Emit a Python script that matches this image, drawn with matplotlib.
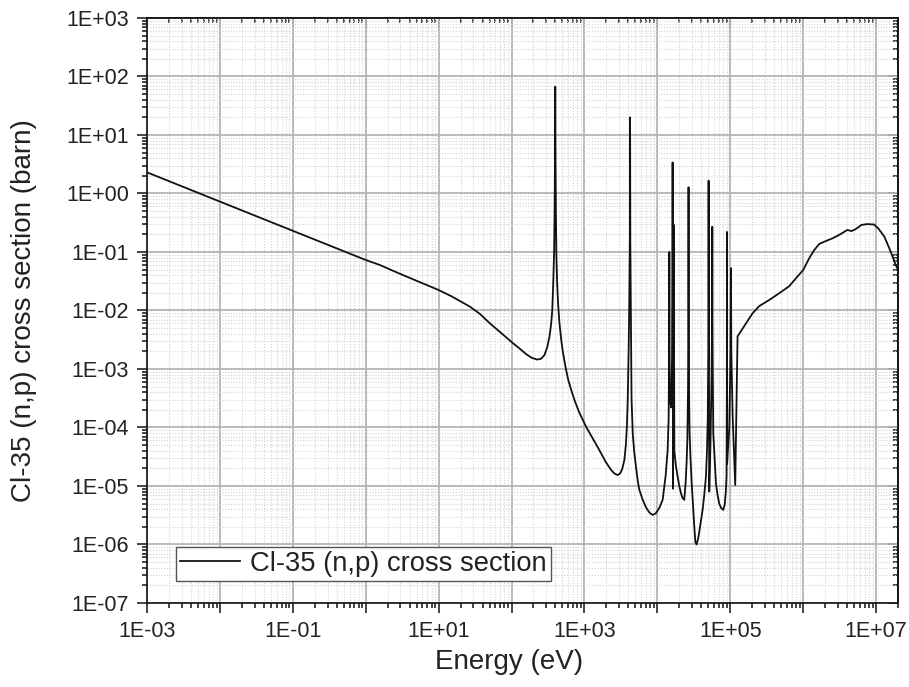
import numpy as np
import matplotlib
matplotlib.use("Agg")
import matplotlib.pyplot as plt
from matplotlib.ticker import LogLocator, FuncFormatter, NullFormatter

plt.rcParams['font.family'] = ['Liberation Sans', 'DejaVu Sans']

# Cl-35 (n,p) cross section: neutron energy (eV) and cross section (barn)
energy_ev = [
    1e-3, 3e-3, 1e-2, 3e-2, 0.1, 0.3, 1.0, 1.56, 3.0, 10.0,
    15.0, 20.0, 27.0, 37.0, 50.0, 75.0, 104.0, 130.0, 160.0, 190.0,
    225.0, 255.0, 283.0, 310.0, 332.0, 350.0, 362.0, 372.0, 384.0, 390.0,
    395.0, 398.0, 401.0, 406.0, 412.0, 422.0, 437.0, 455.0, 480.0, 505.0,
    530.0, 561.0, 600.0, 658.0, 730.0, 850.0, 1054.0, 1300.0, 1604.0, 1950.0,
    2322.0, 2600.0, 2864.0, 3100.0, 3300.0, 3533.0, 3700.0, 3830.0, 3926.0, 4050.0,
    4130.0, 4200.0, 4215.0, 4227.0, 4240.0, 4260.0, 4325.0, 4430.0, 4600.0, 4800.0,
    5100.0, 5400.0, 5660.0, 6300.0, 7000.0, 7800.0, 8630.0, 9500.0, 10640.0, 11830.0,
    13000.0, 13850.0, 14300.0, 14550.0, 14600.0, 14650.0, 14900.0, 15500.0, 15950.0, 16170.0,
    16200.0, 16230.0, 16400.0, 16700.0, 16880.0, 16900.0, 16920.0, 17100.0, 18000.0, 19000.0,
    20000.0, 21100.0, 22200.0, 23400.0, 24500.0, 25200.0, 25800.0, 26400.0, 26700.0, 26800.0,
    26900.0, 27300.0, 27700.0, 28500.0, 29500.0, 30500.0, 31800.0, 33200.0, 34500.0, 36500.0,
    39000.0, 41800.0, 44000.0, 46400.0, 48000.0, 49200.0, 50000.0, 50500.0, 51500.0, 53500.0,
    55500.0, 56500.0, 56700.0, 56900.0, 57600.0, 58500.0, 61000.0, 63700.0, 67000.0, 70600.0,
    75000.0, 80200.0, 84000.0, 87000.0, 89000.0, 89900.0, 90100.0, 90600.0, 97000.0, 101000.0,
    102300.0, 103500.0, 108000.0, 117000.0, 126000.0, 164000.0, 202000.0, 250000.0, 342000.0, 469000.0,
    643000.0, 835000.0, 1.0e6, 1.21e6, 1.42e6, 1.66e6, 1.9e6, 2.52e6, 3.1e6, 4.04e6,
    4.6e6, 5.2e6, 6.3e6, 7.6e6, 9.4e6, 1.07e7, 1.3e7, 1.59e7, 1.86e7, 2.0e7,
]
cross_section_b = [
    2.3, 1.33, 0.73, 0.42, 0.23, 0.133, 0.073, 0.060, 0.042, 0.0224,
    0.0175, 0.0143, 0.0116, 8.7e-3, 6.1e-3, 3.95e-3, 2.78e-3, 2.22e-3, 1.78e-3, 1.55e-3,
    1.45e-3, 1.5e-3, 1.73e-3, 2.4e-3, 3.6e-3, 6.0e-3, 0.01, 0.025, 0.1, 0.5,
    5.0, 67.0, 5.0, 0.5, 0.1, 0.03, 0.012, 6.0e-3, 3.2e-3, 2.0e-3,
    1.4e-3, 9.6e-4, 6.5e-4, 4.4e-4, 2.95e-4, 1.8e-4, 1.03e-4, 6.5e-5, 4.1e-5, 2.6e-5,
    1.88e-5, 1.62e-5, 1.54e-5, 1.65e-5, 1.95e-5, 2.8e-5, 5e-5, 1.1e-4, 3e-4, 2.5e-3,
    0.015, 0.15, 0.8, 20.0, 0.8, 0.15, 0.012, 3e-4, 8e-5, 4e-5,
    2.1e-5, 1.2e-5, 8.6e-6, 5.8e-6, 4.3e-6, 3.5e-6, 3.2e-6, 3.4e-6, 4.2e-6, 5.8e-6,
    1.5e-5, 4.1e-5, 1.5e-4, 3e-3, 0.10, 3e-3, 3e-4, 2.2e-4, 1.5e-3, 0.05,
    3.4, 0.05, 9e-6, 5e-4, 0.01, 0.29, 0.01, 4e-5, 2.2e-5, 1.44e-5,
    1.0e-5, 7.5e-6, 6.2e-6, 5.8e-6, 1.2e-5, 2.5e-5, 6e-5, 5e-4, 0.02, 1.28,
    0.02, 3e-4, 8e-5, 3e-5, 1.2e-5, 5.8e-6, 2.5e-6, 1.1e-6, 1.0e-6, 1.3e-6,
    2.2e-6, 3.9e-6, 7e-6, 1.44e-5, 4e-5, 1.5e-4, 2e-3, 1.66, 8e-6, 5e-5,
    8e-4, 0.01, 0.27, 0.01, 8e-4, 8e-5, 3e-5, 1.1e-5, 7e-6, 5e-6,
    4.2e-6, 3.9e-6, 4.8e-6, 8e-6, 1.5e-5, 5e-4, 0.22, 2.4e-5, 1e-4, 2e-3,
    0.053, 2e-3, 1.5e-4, 1.04e-5, 3.6e-3, 6.0e-3, 8.9e-3, 0.0119, 0.0151, 0.0197,
    0.026, 0.038, 0.049, 0.078, 0.108, 0.137, 0.148, 0.171, 0.195, 0.238,
    0.228, 0.244, 0.29, 0.30, 0.295, 0.254, 0.183, 0.101, 0.060, 0.05,
]

x_limits = (1e-3, 2e7)
y_limits = (1e-7, 1e3)
series_label = "Cl-35 (n,p) cross section"
x_title = "Energy (eV)"
y_title = "Cl-35 (n,p) cross section (barn)"

fig = plt.figure(figsize=(9.09, 6.87), dpi=100)
ax = fig.add_axes([0.1617, 0.1223, 0.8262, 0.8515])

ax.plot(energy_ev, cross_section_b, color='#111111', lw=1.3, label=series_label)

ax.set_xscale('log')
ax.set_yscale('log')
ax.set_xlim(*x_limits)
ax.set_ylim(*y_limits)


def exp_label(v, pos, odd_only=False):
    e = int(round(np.log10(v)))
    if odd_only and e % 2 == 0:
        return ""
    return f"1E{e:+03d}"


def decade_locators(axis):
    axis.set_major_locator(LogLocator(base=10, numticks=100))
    axis.set_minor_locator(LogLocator(base=10, subs=np.arange(2, 10), numticks=200))


decade_locators(ax.xaxis)
decade_locators(ax.yaxis)
ax.xaxis.set_major_formatter(FuncFormatter(lambda v, p: exp_label(v, p, True)))
ax.yaxis.set_major_formatter(FuncFormatter(exp_label))
ax.xaxis.set_minor_formatter(NullFormatter())
ax.yaxis.set_minor_formatter(NullFormatter())

ax.set_axisbelow(True)
ax.grid(which='major', color='#b4b4b4', lw=1.3)
ax.grid(which='minor', color='#d4d4d4', lw=0.8, ls=(0, (1, 1.5)))

ax.tick_params(which='both', direction='out', top=False, right=False,
               width=1.1, colors='#111111', labelcolor='#222222')
ax.tick_params(which='major', length=7, labelsize=15.5, pad=6)
ax.tick_params(which='minor', length=3.6)

for side in ax.spines.values():
    side.set_linewidth(1.2)
    side.set_color('#111111')

# inward ticks on the top and right edges
top = ax.secondary_xaxis('top')
decade_locators(top.xaxis)
top.xaxis.set_major_formatter(NullFormatter())
top.xaxis.set_minor_formatter(NullFormatter())

right = ax.secondary_yaxis('right')
decade_locators(right.yaxis)
right.yaxis.set_major_formatter(NullFormatter())
right.yaxis.set_minor_formatter(NullFormatter())

for sec in (top, right):
    sec.tick_params(which='both', direction='in', width=1.1, colors='#111111')
    sec.tick_params(which='major', length=7)
    sec.tick_params(which='minor', length=3.6)
    for side in sec.spines.values():
        side.set_linewidth(1.2)
        side.set_color('#111111')

ax.set_xlabel(x_title, fontsize=20, color='#222222')
ax.xaxis.set_label_coords(0.482, -0.078)
ax.set_ylabel(y_title, fontsize=20, color='#222222', labelpad=21)

leg = ax.legend(loc='lower left', bbox_to_anchor=(0.0386, 0.0376), borderaxespad=0,
                fontsize=19.7, frameon=True, fancybox=False, framealpha=1,
                edgecolor='#555555', handlelength=2.2, handletextpad=0.35,
                borderpad=0.15)
leg.get_frame().set_linewidth(1.0)
for t in leg.get_texts():
    t.set_color('#222222')

fig.savefig('out.png', dpi=100)
